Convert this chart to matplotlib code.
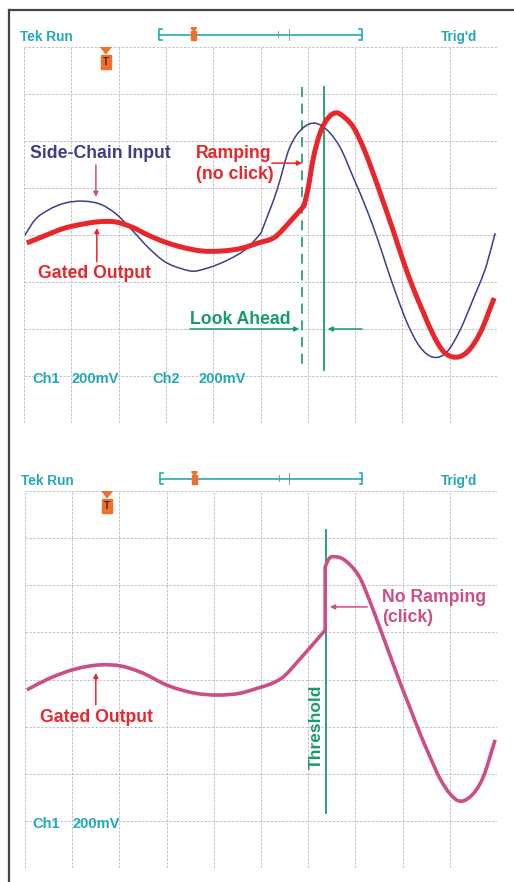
import matplotlib
matplotlib.use("Agg")
import matplotlib.pyplot as plt
from matplotlib.lines import Line2D
from matplotlib.patches import Rectangle, Polygon, PathPatch
from matplotlib.path import Path

side_x = [0.02, 0.23, 0.51, 0.87, 1.25, 1.65, 1.92, 2.28, 2.62, 2.98, 3.34, 3.55,
          3.89, 4.31, 4.74, 5.01, 5.35, 5.62, 5.75, 5.90, 6.15, 6.30, 6.47, 6.68,
          6.96, 7.25, 7.46, 7.67, 7.89, 8.10, 8.37, 8.65, 8.94, 9.22, 9.49, 9.79, 9.96]
side_y = [0.00, 0.32, 0.53, 0.68, 0.72, 0.64, 0.47, 0.11, -0.26, -0.57, -0.72, -0.77,
          -0.70, -0.53, -0.26, 0.04, 0.96, 1.87, 2.11, 2.28, 2.38, 2.32, 2.17, 1.87,
          1.23, 0.53, -0.04, -0.68, -1.32, -1.87, -2.38, -2.60, -2.49, -2.02, -1.38, -0.60, 0.04]
side_kinks = [15]

gated_x = [0.06, 0.38, 0.87, 1.23, 1.56, 1.92, 2.28, 2.62, 2.98, 3.34, 3.76, 4.19,
           4.61, 4.95, 5.31, 5.62, 5.92, 6.00, 6.11, 6.26, 6.43, 6.60, 6.78, 6.96,
           7.17, 7.38, 7.59, 7.80, 8.01, 8.22, 8.44, 8.65, 8.86, 9.11, 9.37, 9.64, 9.94]
gated_y = [-0.17, -0.04, 0.15, 0.23, 0.28, 0.28, 0.17, 0.00, -0.15, -0.26, -0.34, -0.34,
           -0.28, -0.17, -0.04, 0.28, 0.62, 0.96, 1.60, 2.17, 2.49, 2.60, 2.50, 2.30,
           1.87, 1.32, 0.72, 0.11, -0.53, -1.11, -1.64, -2.12, -2.47, -2.60, -2.49, -2.09, -1.34]
gated_kinks = [16]

click_x = [0.04, 0.53, 1.06, 1.59, 2.01, 2.44, 3.01, 3.60, 4.09, 4.56, 4.94, 5.19,
           5.44, 5.83, 6.36, 6.36, 6.42, 6.61, 6.89, 7.10, 7.31, 7.52, 7.73, 7.94,
           8.16, 8.37, 8.58, 8.79, 9.00, 9.17, 9.43, 9.70, 9.96]
click_y = [-0.22, 0.03, 0.22, 0.31, 0.29, 0.16, -0.12, -0.29, -0.33, -0.29, -0.18, -0.10,
           0.03, 0.44, 1.05, 2.39, 2.53, 2.60, 2.43, 2.15, 1.65, 1.09, 0.52, -0.05,
           -0.61, -1.15, -1.64, -2.10, -2.42, -2.57, -2.49, -2.09, -1.28]
click_kinks = [14, 15]

look_ahead_x = 5.88
gate_x = 6.34
threshold_x = 6.38

TEAL = "#22a9b8"
RED = "#e8262b"
NAVY = "#3d3d8c"
GREEN = "#179c68"
PINK = "#cd4d88"
ORANGE = "#f0702a"
FONT = "Liberation Sans"


def trace(ax, xs, ys, kinks, **kw):
    # smooth path y(x) through the read points (cubic hermite as bezier),
    # with sharp corners at the kinks
    cuts = [0] + kinks + [len(xs) - 1]
    verts, codes = [(xs[0], ys[0])], [Path.MOVETO]
    for a, b in zip(cuts[:-1], cuts[1:]):
        sx, sy = xs[a:b + 1], ys[a:b + 1]
        n = len(sx)
        if n == 2 or sx[0] == sx[-1]:
            verts.append((sx[-1], sy[-1]))
            codes.append(Path.LINETO)
            continue
        d = [(sy[i + 1] - sy[i]) / (sx[i + 1] - sx[i]) for i in range(n - 1)]
        h = [sx[i + 1] - sx[i] for i in range(n - 1)]
        m = [d[0]]
        for i in range(1, n - 1):
            m.append((d[i - 1] * h[i] + d[i] * h[i - 1]) / (h[i - 1] + h[i]))
        m.append(d[-1])
        for i in range(n - 1):
            c1 = (sx[i] + h[i] / 3, sy[i] + m[i] * h[i] / 3)
            c2 = (sx[i + 1] - h[i] / 3, sy[i + 1] - m[i + 1] * h[i] / 3)
            verts += [c1, c2, (sx[i + 1], sy[i + 1])]
            codes += [Path.CURVE4] * 3
    ax.add_patch(PathPatch(Path(verts, codes), fill=False, joinstyle="round",
                           capstyle="butt", **kw))


fig = plt.figure(figsize=(5.14, 8.82), dpi=100)

# outer frame (left and top edges)
fig.add_artist(Line2D([9/514, 9/514], [0, 1 - 10/882], color="#444444", lw=1.6))
fig.add_artist(Line2D([9/514, 1], [1 - 10/882, 1 - 10/882], color="#444444", lw=1.6))

ax1 = fig.add_axes([24/514, 1 - 423/882, 473/514, 376/882])
ax2 = fig.add_axes([25/514, 1 - 868/882, 472/514, 377/882])


def screen(ax, trig_x, ch_labels):
    ax.set_xlim(0, 10)
    ax.set_ylim(-4, 4)
    ax.axis("off")
    for i in range(11):
        ax.plot([i, i], [-4, 4], color="#c2c2c2", lw=0.7, ls=(0, (2.5, 1.5)), zorder=1)
    for j in range(-4, 5):
        ax.plot([0, 10], [j, j], color="#c2c2c2", lw=0.7, ls=(0, (2.5, 1.5)), zorder=1)
    # header
    ax.text(-0.08, 4.21, "Tek Run", color=TEAL, fontsize=9.8, fontweight="bold",
            family=FONT, va="center", ha="left", clip_on=False)
    ax.text(8.82, 4.21, "Trig'd", color=TEAL, fontsize=9.8, fontweight="bold",
            family=FONT, va="center", ha="left", clip_on=False)
    bx0, bx1, by = 2.86, 7.15, 4.26
    ax.plot([bx0, bx1], [by, by], color=TEAL, lw=1.2, clip_on=False)
    ax.plot([bx0 + 0.06, bx0, bx0, bx0 + 0.06], [by + 0.12, by + 0.12, by - 0.12, by - 0.12],
            color=TEAL, lw=1.2, clip_on=False)
    ax.plot([bx1 - 0.06, bx1, bx1, bx1 - 0.06], [by + 0.12, by + 0.12, by - 0.12, by - 0.12],
            color=TEAL, lw=1.2, clip_on=False)
    ax.plot([5.38, 5.38], [by - 0.05, by + 0.08], color="#888888", lw=0.6, clip_on=False)
    ax.plot([5.60, 5.60], [by - 0.12, by + 0.12], color="#888888", lw=0.6, clip_on=False)
    ax.add_patch(Rectangle((3.54, by - 0.11), 0.10, 0.18, color=ORANGE, clip_on=False, zorder=5))
    ax.add_patch(Polygon([[3.53, by + 0.15], [3.65, by + 0.15], [3.59, by + 0.07]],
                         color=ORANGE, clip_on=False, zorder=5))
    # trigger marker
    ax.add_patch(Polygon([[trig_x - 0.11, 4.0], [trig_x + 0.11, 4.0], [trig_x, 3.86]],
                         color=ORANGE, zorder=5))
    ax.add_patch(Rectangle((trig_x - 0.11, 3.53), 0.22, 0.30, color=ORANGE, zorder=5))
    ax.text(trig_x, 3.675, "T", color="#3a2a20", fontsize=7, fontweight="bold",
            family=FONT, ha="center", va="center", zorder=6)
    for lx, lab in ch_labels:
        ax.text(lx, -3.07, lab, color=TEAL, fontsize=10.5, fontweight="bold",
                family=FONT, va="center", ha="left")


screen(ax1, 1.73, [(0.17, "Ch1"), (1.01, "200mV"), (2.71, "Ch2"), (3.68, "200mV")])
screen(ax2, 1.74, [(0.15, "Ch1"), (1.0, "200mV")])

lbl = dict(fontsize=12.7, fontweight="bold", family=FONT, va="center", ha="left")
arrow = dict(arrowstyle="-|>", lw=1.1, mutation_scale=7, shrinkA=0, shrinkB=0)

# ---- top screen: look-ahead gate with ramping
trace(ax1, side_x, side_y, side_kinks, ec=NAVY, lw=1.1, zorder=3)
trace(ax1, gated_x, gated_y, gated_kinks, ec=RED, lw=3.6, zorder=4)
ax1.plot([look_ahead_x, look_ahead_x], [3.15, -2.81], color=GREEN, lw=1.2,
         ls=(0, (6, 4)), zorder=2)
ax1.plot([gate_x, gate_x], [3.15, -2.87], color=GREEN, lw=1.3, zorder=2)

ax1.text(0.13, 1.74, "Side-Chain Input", color=NAVY, **lbl)
ax1.annotate("", xy=(1.52, 0.81), xytext=(1.52, 1.49), arrowprops=dict(color=PINK, **arrow))
ax1.text(3.64, 1.74, "Ramping", color=RED, **lbl)
ax1.text(3.64, 1.28, "(no click)", color=RED, **lbl)
ax1.annotate("", xy=(5.88, 1.53), xytext=(5.24, 1.53), arrowprops=dict(color=RED, **arrow))
ax1.text(0.30, -0.81, "Gated Output", color=RED, **lbl)
ax1.annotate("", xy=(1.54, 0.15), xytext=(1.54, -0.57), arrowprops=dict(color=RED, **arrow))
ax1.text(3.51, -1.79, "Look Ahead", color=GREEN, **lbl)
ax1.annotate("", xy=(5.82, -2.0), xytext=(3.51, -2.0), arrowprops=dict(color=GREEN, **arrow))
ax1.annotate("", xy=(6.42, -2.0), xytext=(7.15, -2.0), arrowprops=dict(color=GREEN, **arrow))

# ---- bottom screen: hard gate, no ramping
trace(ax2, click_x, click_y, click_kinks, ec=PINK, lw=2.6, zorder=4)
ax2.plot([threshold_x, threshold_x], [3.17, -2.83], color=GREEN, lw=1.3, zorder=2)
ax2.text(6.17, -1.01, "Threshold", color=GREEN, rotation=90, fontsize=12.5,
         fontweight="bold", family=FONT, va="center", ha="center")
ax2.text(7.56, 1.75, "No Ramping", color=PINK, **lbl)
ax2.text(7.56, 1.31, "(click)", color=PINK, **lbl)
ax2.annotate("", xy=(6.46, 1.54), xytext=(7.25, 1.54), arrowprops=dict(color=PINK, **arrow))
ax2.text(0.32, -0.80, "Gated Output", color=RED, **lbl)
ax2.annotate("", xy=(1.50, 0.14), xytext=(1.50, -0.54), arrowprops=dict(color=RED, **arrow))

fig.savefig("out.png", dpi=100)
